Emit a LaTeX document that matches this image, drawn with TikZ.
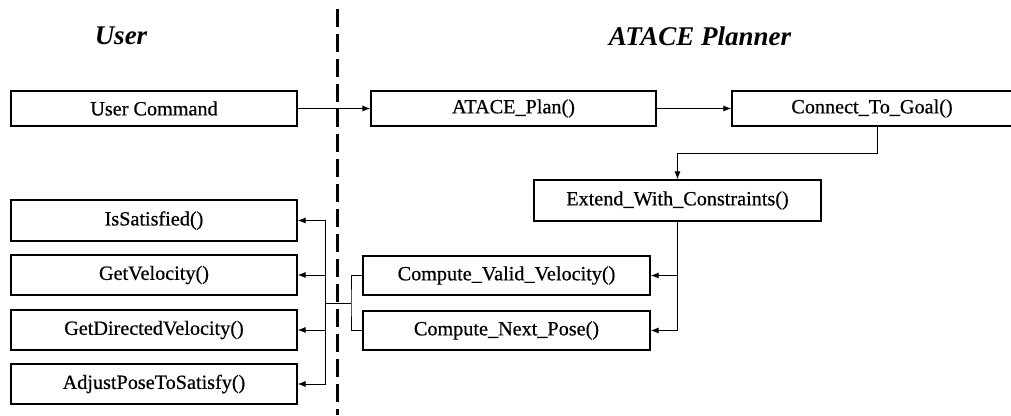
\documentclass[tikz,border=0pt]{standalone}
\usepackage{fontspec}
\setmainfont{Liberation Serif}
\newfontface\boxfont{Liberation Serif}[FakeBold=0.6]
\usetikzlibrary{arrows.meta}
\begin{document}
\begin{tikzpicture}[x=1pt,y=-1pt,
  box/.style={draw,line width=1.1pt,inner sep=0pt,minimum width=286pt,
    font=\boxfont\fontsize{20.2}{23}\selectfont},
  title/.style={font=\fontsize{27}{30}\selectfont\bfseries\itshape},
  link/.style={line width=1pt,-{Latex[length=8pt,width=6pt]}},
  plain/.style={line width=1pt},
  divider/.style={line width=3pt,dash pattern=on 18pt off 7pt}]
  \useasboundingbox[fill=white] (0,0) rectangle (1011,415);

  % column titles
  \node[title] (tuser) at (121,36) {User};
  \node[title] (tplan) at (700,36) {ATACE Planner};

  % boundary between user and planner
  \coordinate (dtop) at (337,9);
  \coordinate (dbot) at (337,415);
  \draw[divider] (dtop) -- (dbot);

  % planner boxes
  \node[box,minimum height=35pt] (cmd) at (154,108.5) {User Command};
  \node[box,minimum height=35pt,minimum width=285pt] (plan) at (513.5,108.5) {ATACE\_Plan()};
  \node[box,minimum height=35pt,minimum width=280pt] (goal) at (872,108.5) {Connect\_To\_Goal()};
  \node[box,minimum height=41pt,minimum width=287pt] (ext) at (677.5,200.5) {Extend\_With\_Constraints()};
  \node[box,minimum height=39pt,minimum width=287pt] (vel) at (506.5,275.5) {Compute\_Valid\_Velocity()};
  \node[box,minimum height=39pt,minimum width=287pt] (pose) at (506.5,330.5) {Compute\_Next\_Pose()};

  % user boxes
  \node[box,minimum height=41pt] (sat) at (154,220.5) {IsSatisfied()};
  \node[box,minimum height=40pt] (getv) at (154,275) {GetVelocity()};
  \node[box,minimum height=40pt] (getd) at (154,330) {GetDirectedVelocity()};
  \node[box,minimum height=40pt] (adj) at (154,384) {AdjustPoseToSatisfy()};

  % top row
  \draw[link] (cmd) -- (plan);
  \draw[link] (plan) -- (goal);

  % goal -> extend
  \coordinate (gout) at (877,126);
  \coordinate (gbend) at (877,153);
  \draw[link] (gout) -- (gbend) -| (ext.north);

  % extend -> velocity and pose
  \coordinate (espine) at (677.5,275.5);
  \draw[plain] (ext.south) -- (espine);
  \draw[link] (espine) -- (vel.east);
  \draw[link] (ext.south) |- (pose.east);

  % velocity and pose -> user queries
  \coordinate (bl) at (351,303);
  \coordinate (spine) at (325,303);
  \draw[plain] (vel.west) -| (bl) |- (pose.west);
  \draw[plain] (bl) -- (spine);
  \draw[link] (spine) |- (sat.east);
  \draw[link] (spine) |- (getv.east);
  \draw[link] (spine) |- (getd.east);
  \draw[link] (spine) |- (adj.east);
\end{tikzpicture}
\end{document}
